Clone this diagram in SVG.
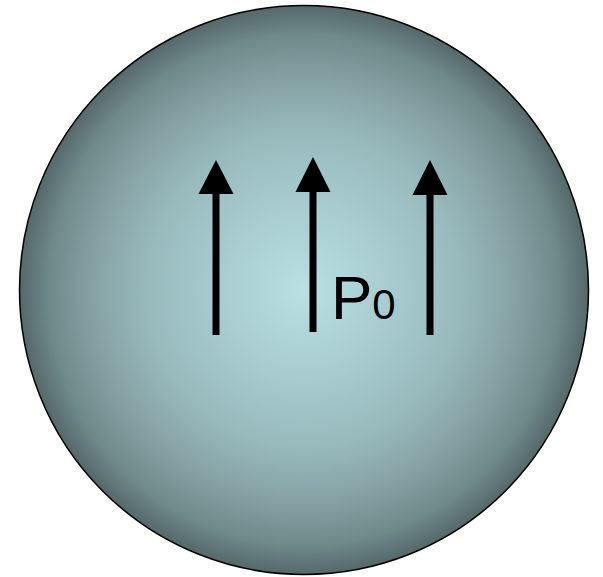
<svg xmlns="http://www.w3.org/2000/svg" width="603" height="577" viewBox="0 0 603 577">
<defs>
<radialGradient id="g" cx="0.5" cy="0.5" r="0.5">
<stop offset="0" stop-color="#bae0e4"/>
<stop offset="0.55" stop-color="#98babd"/>
<stop offset="0.75" stop-color="#85a0a3"/>
<stop offset="0.9" stop-color="#6f888a"/>
<stop offset="1" stop-color="#55686a"/>
</radialGradient>
<style>.shaft{stroke:#000;stroke-width:7;fill:none}.head{fill:#000}</style>
</defs>
<g id="sphere"><circle cx="304" cy="290" r="284.5" fill="url(#g)" stroke="#000" stroke-width="1.5"/></g>
<g id="arrows">
<line class="shaft" x1="216" y1="335" x2="216" y2="190"/>
<polygon class="head" points="216,160 233.5,194 198.5,194"/>
<line class="shaft" x1="313" y1="332" x2="313" y2="188"/>
<polygon class="head" points="313,157 330.5,192 295.5,192"/>
<line class="shaft" x1="430" y1="335" x2="430" y2="190"/>
<polygon class="head" points="430,160 447.5,195 412.5,195"/>
</g>
<g id="label"><text x="331" y="319" font-family="Liberation Sans, Arial, sans-serif" font-size="62" fill="#000">P<tspan font-size="42">0</tspan></text></g>
</svg>
